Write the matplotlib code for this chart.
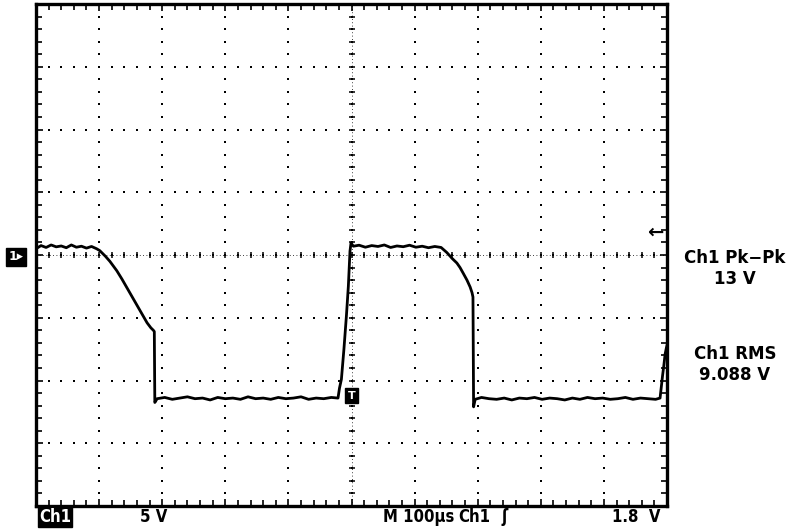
'''
Oscilloscope capture: Ch1 square-ish wave, 5 V/div, 100 us/div.
'''

import numpy as np
import matplotlib.pyplot as plt

# --------------------------------------------------------------
#                           DATA
# --------------------------------------------------------------

# time (us from left edge of screen) and Ch1 voltage (V, ground at centre)
t_us = [0, 8, 16, 24, 32, 40, 48, 56, 64, 72, 80, 88, 96, 101,
        110, 117, 128, 136, 144, 152, 160, 168, 176, 182, 186, 187.5,
        188.3, 192, 204, 216, 228, 240, 252, 264, 276, 288, 300, 312,
        324, 336, 348, 360, 372, 384, 396, 408, 420, 432, 444, 456,
        468, 478.6,
        481, 484, 488, 492, 495, 497.6, 499.2,
        503, 512, 522, 532, 542, 552, 562, 572, 582, 592, 602, 612,
        622, 632, 642, 651,
        660, 667, 672, 677, 683, 688, 691, 692.5,
        693.5, 696, 706, 718, 730, 742, 754, 766, 778, 790, 802, 814,
        826, 838, 850, 862, 874, 886, 898, 910, 922, 934, 946, 958,
        970, 982, 989,
        991, 993, 995, 997, 999, 1000]
v_ch1 = [0.5, 0.75, 0.6, 0.8, 0.65, 0.72, 0.58, 0.8, 0.62, 0.7, 0.55, 0.68, 0.5, 0.35,
         -0.1, -0.5, -1.25, -1.9, -2.6, -3.3, -4.0, -4.7, -5.4, -5.8, -6.0, -6.1,
         -11.75, -11.45, -11.35, -11.5, -11.4, -11.3, -11.45, -11.4, -11.55, -11.35, -11.45, -11.4,
         -11.5, -11.3, -11.45, -11.4, -11.5, -11.35, -11.45, -11.4, -11.3, -11.5, -11.4, -11.45,
         -11.35, -11.4,
         -10.6, -9.9, -7.5, -4.8, -2.5, 0.3, 0.96,
         0.7, 0.78, 0.62, 0.75, 0.68, 0.8, 0.6, 0.72, 0.66, 0.78, 0.62, 0.7,
         0.58, 0.68, 0.6, 0.2,
         -0.3, -0.64, -1.0, -1.45, -2.0, -2.55, -3.0, -3.35,
         -12.1, -11.5, -11.35, -11.45, -11.5, -11.4, -11.55, -11.4, -11.45, -11.35, -11.5, -11.4,
         -11.45, -11.55, -11.4, -11.5, -11.35, -11.45, -11.4, -11.5, -11.45, -11.35, -11.5, -11.4,
         -11.45, -11.5, -11.4,
         -10.5, -9.6, -8.8, -7.9, -7.4, -7.2]

# readouts
meas_labels = ["Ch1 Pk\u2212Pk", "Ch1 RMS"]
meas_values = ["13 V", "9.088 V"]

# scope settings
t_per_div = 100   # us
v_per_div = 5     # V
trig_level = 1.8  # V

# --------------------------------------------------------------
#                           PLOT
# --------------------------------------------------------------

fig = plt.figure(figsize=(8, 5.29), dpi=100)
ax = fig.add_axes([36 / 800, 1 - 506 / 529, 631 / 800, 502 / 529])

ax.set_xlim(0, 10 * t_per_div)
ax.set_ylim(-4 * v_per_div, 4 * v_per_div)

# graticule: dotted lines, dots every 0.2 div
fine_t = np.arange(0, 10 * t_per_div + 1, t_per_div / 5)
fine_v = np.arange(-4 * v_per_div, 4 * v_per_div + 0.01, v_per_div / 5)
for k in range(1, 10):
    ax.plot(np.full(fine_v.size, k * t_per_div), fine_v, 's', color='black',
            markersize=1.7, markeredgewidth=0)
for j in range(-3, 4):
    ax.plot(fine_t, np.full(fine_t.size, j * v_per_div), 's', color='black',
            markersize=1.7, markeredgewidth=0)

# centre lines with small crosses
ax.plot([0, 1000], [0, 0], color='black', lw=0.6, ls=(0, (1, 3)))
ax.plot([500, 500], [-20, 20], color='black', lw=0.6, ls=(0, (1, 3)))
ax.plot(fine_t, np.zeros(fine_t.size), '|', color='black', markersize=5, markeredgewidth=1.1)
ax.plot(np.full(fine_v.size, 500), fine_v, '_', color='black', markersize=5, markeredgewidth=1.1)

# border ticks
ax.set_xticks(np.arange(0, 1001, t_per_div))
ax.set_xticks(fine_t, minor=True)
ax.set_yticks(np.arange(-20, 21, v_per_div))
ax.set_yticks(fine_v, minor=True)
ax.tick_params(which='both', direction='in', top=True, right=True,
               labelbottom=False, labelleft=False, width=1.2, color='black')
ax.tick_params(which='major', length=5)
ax.tick_params(which='minor', length=4)
for s in ax.spines.values():
    s.set_linewidth(2.4)

# trace
ax.plot(t_us, v_ch1, color='black', lw=2.0, solid_joinstyle='round')

# ground marker on the left
fig.text(16 / 800, 1 - 257 / 529, "1\u25b8", color='white', fontsize=9, fontweight='bold',
         ha='center', va='center',
         bbox=dict(facecolor='black', edgecolor='black', boxstyle='square,pad=0.2'))

# trigger position marker
ax.text(500, -11.2, "T", color='white', fontsize=8, fontweight='bold', ha='center', va='center',
        bbox=dict(facecolor='black', edgecolor='black', boxstyle='square,pad=0.25'))

# trigger level arrow
ax.text(995, trig_level, "\u2190", color='black', fontsize=14, fontweight='bold',
        ha='right', va='center')

# measurement readouts
rfont = dict(fontsize=12, fontweight='bold', ha='center', va='center')
fig.text(735 / 800, 1 - 258 / 529, meas_labels[0], **rfont)
fig.text(735 / 800, 1 - 279 / 529, meas_values[0], **rfont)
fig.text(735 / 800, 1 - 354 / 529, meas_labels[1], **rfont)
fig.text(735 / 800, 1 - 375 / 529, meas_values[1], **rfont)

# bottom status line
bfont = dict(family='DejaVu Sans', stretch='condensed', fontsize=12, fontweight='bold', va='center')
y_status = 1 - 517 / 529
fig.text(55 / 800, y_status, "Ch1", color='white', ha='center',
         bbox=dict(facecolor='black', edgecolor='black', boxstyle='square,pad=0.05'), **bfont)
fig.text(140 / 800, y_status, f"{v_per_div} V", ha='left', **bfont)
fig.text(383 / 800, y_status, f"M {t_per_div}\u00b5s", ha='left', **bfont)
fig.text(458 / 800, y_status, "Ch1", ha='left', **bfont)
fig.text(505 / 800, y_status, "\u0283", ha='center', **bfont)
fig.text(660 / 800, y_status, f"{trig_level}  V", ha='right', **bfont)

plt.savefig("out.png", dpi=100)
plt.close()
